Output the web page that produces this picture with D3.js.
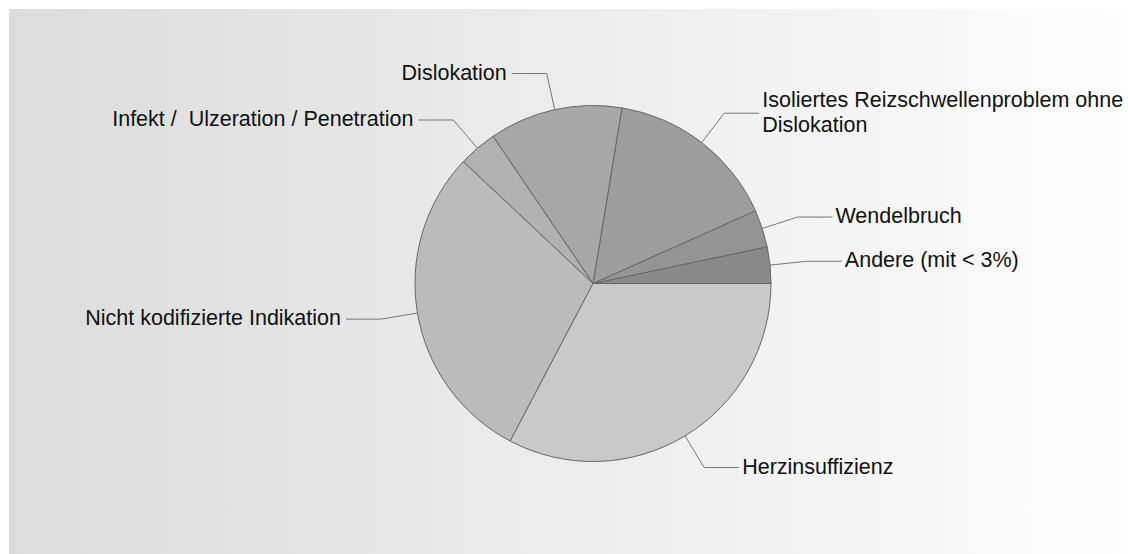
<!DOCTYPE html>
<html>
<head>
<meta charset="utf-8">
<script src="https://cdn.jsdelivr.net/npm/d3@7/dist/d3.min.js"></script>
<style>
  html, body { margin: 0; padding: 0; background: #ffffff; }
  svg { display: block; }
  text { font-family: "Liberation Sans", Arial, sans-serif; font-size: 21.5px; fill: #111; white-space: pre; }
</style>
</head>
<body>
<svg id="chart" width="1128" height="554"></svg>
<script>
// Data (percent shares), ordered counter-clockwise from 3 o'clock
const categories = [
  ["Andere (mit < 3%)"],
  ["Wendelbruch"],
  ["Isoliertes Reizschwellenproblem ohne", "Dislokation"],
  ["Dislokation"],
  ["Infekt /  Ulzeration / Penetration"],
  ["Nicht kodifizierte Indikation"],
  ["Herzinsuffizienz"]
];
const values = [3.3, 3.4, 15.7, 12.1, 3.5, 29.3, 32.7];
const colors = ["#8a8a8a", "#949494", "#9d9d9d", "#a7a7a7", "#b1b1b1", "#bbbbbb", "#c9c9c9"];

const W = 1128, H = 554;
const cx = 593, cy = 283.5, R = 178, Rk = 215, hLen = 35;

const svg = d3.select("#chart");
const defs = svg.append("defs");
const grad = defs.append("linearGradient").attr("id", "bg").attr("x1", "0%").attr("x2", "100%").attr("y1", "0%").attr("y2", "0%");
grad.append("stop").attr("offset", "0%").attr("stop-color", "#dcdcdc");
grad.append("stop").attr("offset", "100%").attr("stop-color", "#fdfdfd");
svg.append("rect").attr("x", 9).attr("y", 9).attr("width", W - 9).attr("height", H - 9).attr("fill", "url(#bg)");

const pie = d3.pie().sort(null).value(d => d)
  .startAngle(Math.PI / 2).endAngle(Math.PI / 2 - 2 * Math.PI);
const arcs = pie(values);
const arc = d3.arc().innerRadius(0).outerRadius(R);
const edgeArc = d3.arc().innerRadius(R).outerRadius(R);
const kneeArc = d3.arc().innerRadius(Rk).outerRadius(Rk);

const g = svg.append("g").attr("transform", `translate(${cx},${cy})`);

g.selectAll("path.slice").data(arcs).join("path")
  .attr("class", "slice")
  .attr("d", arc)
  .attr("fill", (d, i) => colors[i])
  .attr("stroke", "#666")
  .attr("stroke-width", 1)
  .attr("stroke-linejoin", "round");

arcs.forEach((d, i) => {
  const e = edgeArc.centroid(d);
  const k = kneeArc.centroid(d);
  const right = k[0] > 0;
  const endX = right ? k[0] + hLen : k[0] - hLen;
  g.append("path")
    .attr("d", `M${e[0]},${e[1]}L${k[0]},${k[1]}L${endX},${k[1]}`)
    .attr("fill", "none").attr("stroke", "#777").attr("stroke-width", 1);
  const lines = categories[i];
  const tx = right ? endX + 3 : endX - 5;
  const t = g.append("text")
    .attr("x", tx)
    .attr("text-anchor", right ? "start" : "end");
  if (lines.length === 1) {
    t.append("tspan").attr("x", tx).attr("y", k[1] + 6).text(lines[0]);
  } else {
    t.append("tspan").attr("x", tx).attr("y", k[1] - 6.5).text(lines[0]);
    t.append("tspan").attr("x", tx).attr("y", k[1] + 18.5).text(lines[1]);
  }
});
</script>
</body>
</html>
